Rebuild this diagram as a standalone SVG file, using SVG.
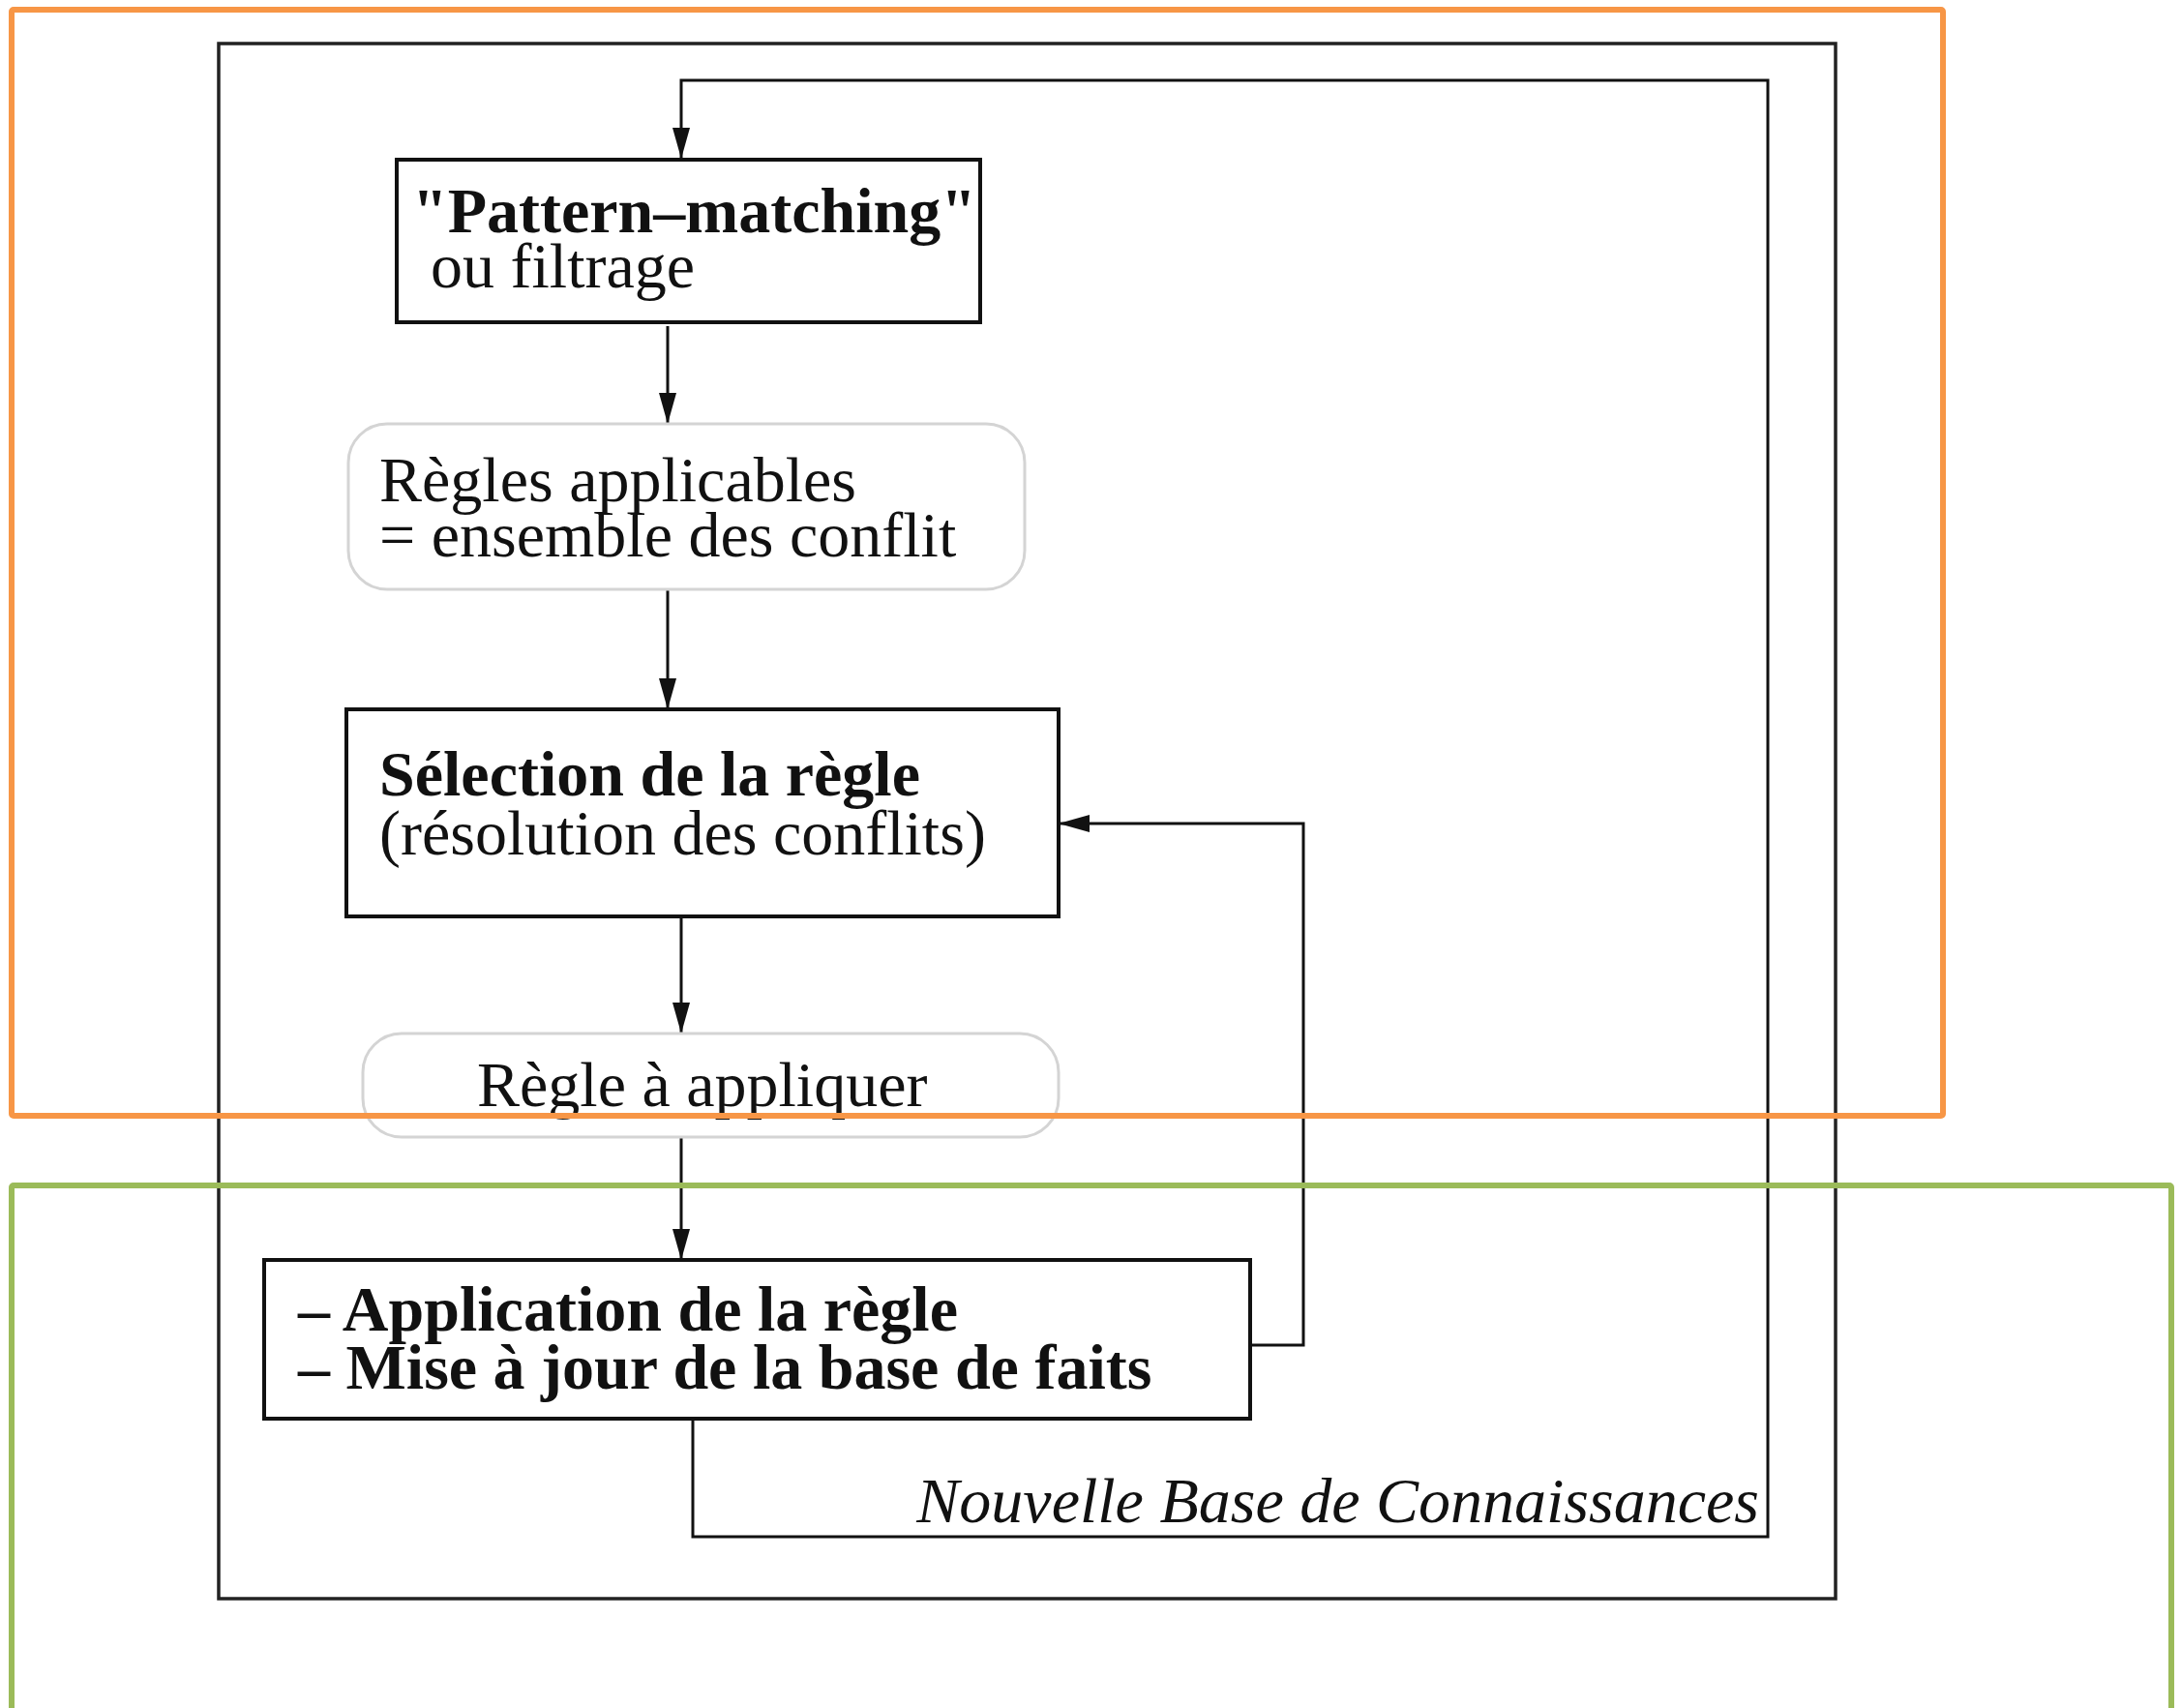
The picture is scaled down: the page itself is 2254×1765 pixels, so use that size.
<svg xmlns="http://www.w3.org/2000/svg" width="2254" height="1765" viewBox="0 0 2254 1765">
  <style>
    .box { fill: #ffffff; stroke: #111111; stroke-width: 4; }
    .soft { fill: #ffffff; stroke: #d4d4d4; stroke-width: 3; }
    .frame { fill: none; stroke: #222222; stroke-width: 3.5; }
    .wire { fill: none; stroke: #111111; stroke-width: 3; }
    .t { font-family: "Liberation Serif", "Times New Roman", serif; font-size: 66px; fill: #111111; }
    .b { font-weight: bold; }
    .i { font-style: italic; }
    .hl-orange { fill: none; stroke: #F79646; stroke-width: 6; }
    .hl-green { fill: none; stroke: #9BBB59; stroke-width: 6; }
  </style>
  <defs>
    <marker id="arrow" viewBox="0 0 32 18" refX="32" refY="9" markerWidth="32" markerHeight="18" markerUnits="userSpaceOnUse" orient="auto">
      <path d="M0,0 L32,9 L0,18 Z" fill="#111111"/>
    </marker>
  </defs>
  <rect width="2254" height="1765" fill="#ffffff"/>

  <!-- outer frame of the inference cycle -->
  <rect class="frame" x="226" y="45" width="1671" height="1607"/>

  <g id="connectors">
    <!-- main flow -->
    <line class="wire" x1="690" y1="337" x2="690" y2="438" marker-end="url(#arrow)"/>
    <line class="wire" x1="690" y1="610" x2="690" y2="733" marker-end="url(#arrow)"/>
    <line class="wire" x1="704" y1="947" x2="704" y2="1068" marker-end="url(#arrow)"/>
    <line class="wire" x1="704" y1="1176" x2="704" y2="1302" marker-end="url(#arrow)"/>
    <!-- inner loop back to rule selection -->
    <polyline class="wire" points="1292,1390 1347,1390 1347,851 1094,851" marker-end="url(#arrow)"/>
    <!-- outer loop: new knowledge base back to pattern matching -->
    <polyline class="wire" points="716,1466 716,1588 1827,1588 1827,83 704,83 704,164" marker-end="url(#arrow)"/>
  </g>

  <g id="pattern-matching">
    <rect class="box" x="410" y="165" width="603" height="168"/>
    <text class="t b" x="426" y="240">"Pattern–matching"</text>
    <text class="t" x="445" y="297">ou filtrage</text>
  </g>

  <g id="regles-applicables">
    <rect class="soft" x="360" y="438" width="699" height="171" rx="40" ry="40"/>
    <text class="t" x="392" y="518">Règles applicables</text>
    <text class="t" x="392" y="575">= ensemble des conflit</text>
  </g>

  <g id="selection">
    <rect class="box" x="358" y="733" width="736" height="214"/>
    <text class="t b" x="392" y="822">Sélection de la règle</text>
    <text class="t" x="392" y="883">(résolution des conflits)</text>
  </g>

  <g id="regle-a-appliquer">
    <rect class="soft" x="375" y="1068" width="719" height="107" rx="40" ry="40"/>
    <text class="t" x="493" y="1143">Règle à appliquer</text>
  </g>

  <g id="application">
    <rect class="box" x="273" y="1302" width="1019" height="164"/>
    <text class="t b" x="308" y="1375">– Application de la règle</text>
    <text class="t b" x="308" y="1435">– Mise à jour de la base de faits</text>
  </g>

  <g id="nouvelle-base">
    <text class="t i" x="1818" y="1573" text-anchor="end">Nouvelle Base de Connaissances</text>
  </g>

  <!-- highlight frames over the figure -->
  <rect class="hl-orange" x="12" y="10" width="1996" height="1143" rx="2"/>
  <rect class="hl-green" x="12" y="1225" width="2232" height="620" rx="2"/>
</svg>
